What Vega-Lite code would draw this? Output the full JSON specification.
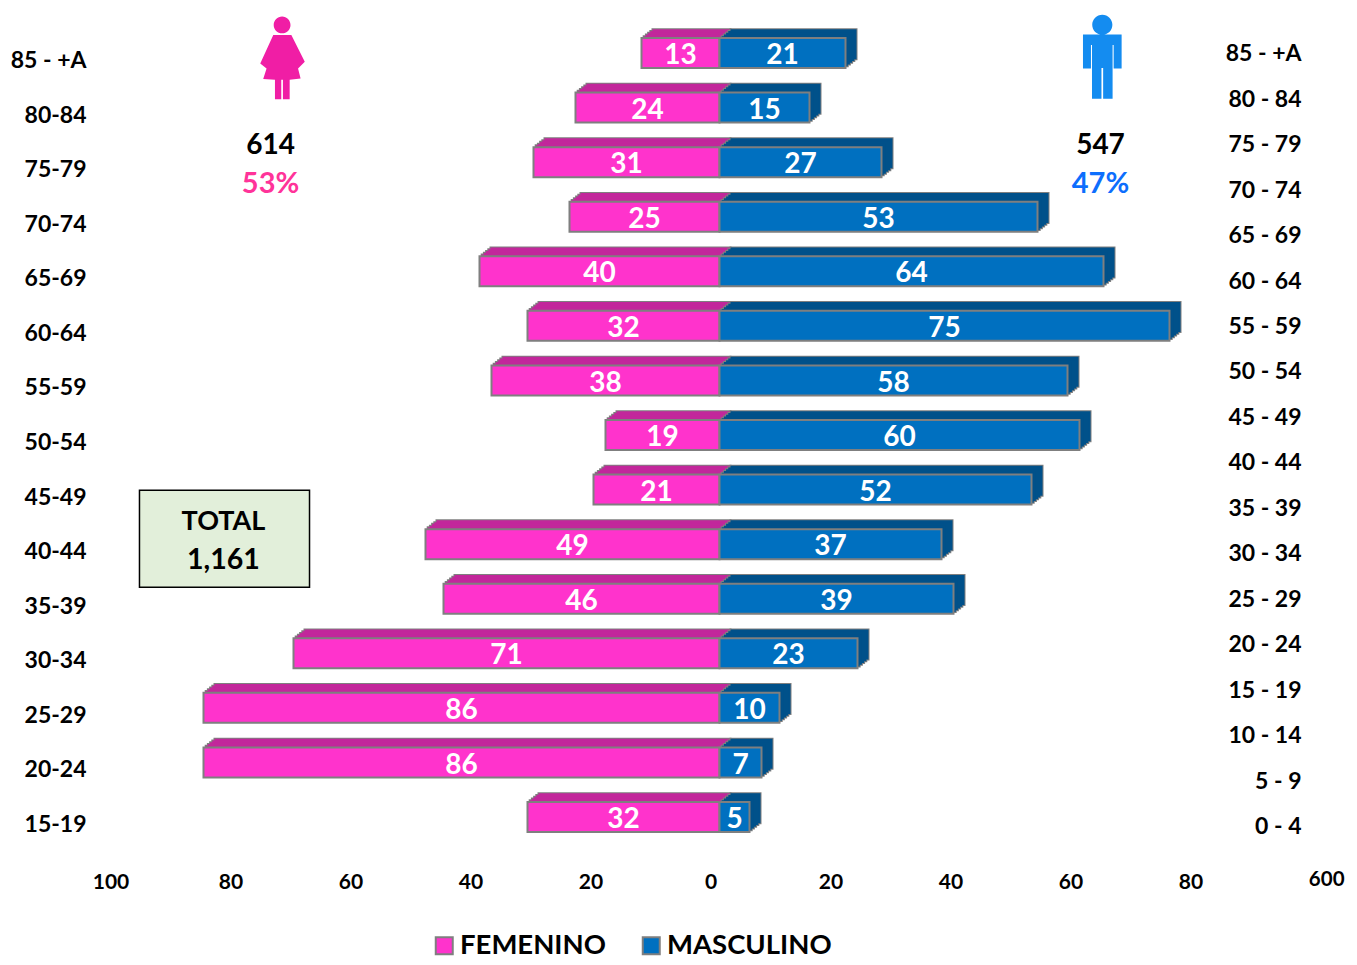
{"$schema":"https://vega.github.io/schema/vega-lite/v6.json","width":1200,"height":818.6,"autosize":{"type":"none"},"padding":{"left":119.5,"top":25.7,"right":37.5,"bottom":120.7},"background":"white","config":{"view":{"stroke":null},"font":"Lato","text":{"font":"Lato","fontWeight":"bold"}},
"data":{"values":[
{"edad":"85 - +A","sexo":"FEMENINO","valor":13},{"edad":"85 - +A","sexo":"MASCULINO","valor":21},
{"edad":"80-84","sexo":"FEMENINO","valor":24},{"edad":"80-84","sexo":"MASCULINO","valor":15},
{"edad":"75-79","sexo":"FEMENINO","valor":31},{"edad":"75-79","sexo":"MASCULINO","valor":27},
{"edad":"70-74","sexo":"FEMENINO","valor":25},{"edad":"70-74","sexo":"MASCULINO","valor":53},
{"edad":"65-69","sexo":"FEMENINO","valor":40},{"edad":"65-69","sexo":"MASCULINO","valor":64},
{"edad":"60-64","sexo":"FEMENINO","valor":32},{"edad":"60-64","sexo":"MASCULINO","valor":75},
{"edad":"55-59","sexo":"FEMENINO","valor":38},{"edad":"55-59","sexo":"MASCULINO","valor":58},
{"edad":"50-54","sexo":"FEMENINO","valor":19},{"edad":"50-54","sexo":"MASCULINO","valor":60},
{"edad":"45-49","sexo":"FEMENINO","valor":21},{"edad":"45-49","sexo":"MASCULINO","valor":52},
{"edad":"40-44","sexo":"FEMENINO","valor":49},{"edad":"40-44","sexo":"MASCULINO","valor":37},
{"edad":"35-39","sexo":"FEMENINO","valor":46},{"edad":"35-39","sexo":"MASCULINO","valor":39},
{"edad":"30-34","sexo":"FEMENINO","valor":71},{"edad":"30-34","sexo":"MASCULINO","valor":23},
{"edad":"25-29","sexo":"FEMENINO","valor":86},{"edad":"25-29","sexo":"MASCULINO","valor":10},
{"edad":"20-24","sexo":"FEMENINO","valor":86},{"edad":"20-24","sexo":"MASCULINO","valor":7},
{"edad":"15-19","sexo":"FEMENINO","valor":32},{"edad":"15-19","sexo":"MASCULINO","valor":5}
]},
"transform":[{"calculate":"datum.sexo=='FEMENINO'?-datum.valor:datum.valor","as":"eje"}],
"resolve":{"scale":{"y":"independent"}},
"encoding":{"x":{"field":"eje","type":"quantitative","stack":null,"scale":{"domain":[-100,100],"nice":false,"zero":false},"axis":{"title":null,"orient":"bottom","values":[-100,-80,-60,-40,-20,0,20,40,60,80],"labelExpr":"abs(datum.value)","domain":false,"ticks":false,"grid":false,"labelPadding":27,"labelOffset":-9,"labelFlush":false,"labelBound":false,"labelFont":"Lato","labelFontWeight":"bold","labelFontSize":21,"labelColor":"black","labelBaseline":"top","labelOverlap":false}}},
"layer":[
{"encoding":{
"y":{"field":"edad","type":"nominal","sort":null,"scale":{"domain":["85 - +A","80-84","75-79","70-74","65-69","60-64","55-59","50-54","45-49","40-44","35-39","30-34","25-29","20-24","15-19"],"paddingInner":0,"paddingOuter":0,"round":false},"axis":{"title":null,"orient":"left","domain":false,"ticks":false,"grid":false,"labelPadding":33.5,"labelOffset":8,"labelFont":"Lato","labelFontWeight":"bold","labelFontSize":23,"labelColor":"black"}},
"x2":{"datum":0}},
"layer":[
{"transform":[{"filter":"datum.sexo=='FEMENINO'"}],"mark":{"type":"bar","height":30,"xOffset":11,"x2Offset":11,"yOffset":-8.8,"color":"#7f7f7f","stroke":"#7f7f7f","strokeWidth":2}},
{"transform":[{"filter":"datum.sexo=='FEMENINO'"}],"mark":{"type":"bar","height":30,"xOffset":8.8,"x2Offset":8.8,"yOffset":-7,"color":"#7f7f7f","stroke":"#7f7f7f","strokeWidth":2}},
{"transform":[{"filter":"datum.sexo=='FEMENINO'"}],"mark":{"type":"bar","height":30,"xOffset":6.6,"x2Offset":6.6,"yOffset":-5.3,"color":"#7f7f7f","stroke":"#7f7f7f","strokeWidth":2}},
{"transform":[{"filter":"datum.sexo=='FEMENINO'"}],"mark":{"type":"bar","height":30,"xOffset":4.4,"x2Offset":4.4,"yOffset":-3.5,"color":"#7f7f7f","stroke":"#7f7f7f","strokeWidth":2}},
{"transform":[{"filter":"datum.sexo=='FEMENINO'"}],"mark":{"type":"bar","height":30,"xOffset":2.2,"x2Offset":2.2,"yOffset":-1.8,"color":"#7f7f7f","stroke":"#7f7f7f","strokeWidth":2}},
{"transform":[{"filter":"datum.sexo=='FEMENINO'"}],"mark":{"type":"bar","height":30,"xOffset":11,"x2Offset":11,"yOffset":-8.8,"color":"#c2279b"}},
{"transform":[{"filter":"datum.sexo=='FEMENINO'"}],"mark":{"type":"bar","height":30,"xOffset":8.8,"x2Offset":8.8,"yOffset":-7,"color":"#c2279b"}},
{"transform":[{"filter":"datum.sexo=='FEMENINO'"}],"mark":{"type":"bar","height":30,"xOffset":6.6,"x2Offset":6.6,"yOffset":-5.3,"color":"#c2279b"}},
{"transform":[{"filter":"datum.sexo=='FEMENINO'"}],"mark":{"type":"bar","height":30,"xOffset":4.4,"x2Offset":4.4,"yOffset":-3.5,"color":"#c2279b"}},
{"transform":[{"filter":"datum.sexo=='FEMENINO'"}],"mark":{"type":"bar","height":30,"xOffset":2.2,"x2Offset":2.2,"yOffset":-1.8,"color":"#c2279b"}},
{"transform":[{"filter":"datum.sexo=='MASCULINO'"}],"mark":{"type":"bar","height":30,"xOffset":11,"x2Offset":11,"yOffset":-8.8,"color":"#7f7f7f","stroke":"#7f7f7f","strokeWidth":2}},
{"transform":[{"filter":"datum.sexo=='MASCULINO'"}],"mark":{"type":"bar","height":30,"xOffset":8.8,"x2Offset":8.8,"yOffset":-7,"color":"#7f7f7f","stroke":"#7f7f7f","strokeWidth":2}},
{"transform":[{"filter":"datum.sexo=='MASCULINO'"}],"mark":{"type":"bar","height":30,"xOffset":6.6,"x2Offset":6.6,"yOffset":-5.3,"color":"#7f7f7f","stroke":"#7f7f7f","strokeWidth":2}},
{"transform":[{"filter":"datum.sexo=='MASCULINO'"}],"mark":{"type":"bar","height":30,"xOffset":4.4,"x2Offset":4.4,"yOffset":-3.5,"color":"#7f7f7f","stroke":"#7f7f7f","strokeWidth":2}},
{"transform":[{"filter":"datum.sexo=='MASCULINO'"}],"mark":{"type":"bar","height":30,"xOffset":2.2,"x2Offset":2.2,"yOffset":-1.8,"color":"#7f7f7f","stroke":"#7f7f7f","strokeWidth":2}},
{"transform":[{"filter":"datum.sexo=='MASCULINO'"}],"mark":{"type":"bar","height":30,"xOffset":11,"x2Offset":11,"yOffset":-8.8,"color":"#00518a"}},
{"transform":[{"filter":"datum.sexo=='MASCULINO'"}],"mark":{"type":"bar","height":30,"xOffset":8.8,"x2Offset":8.8,"yOffset":-7,"color":"#00518a"}},
{"transform":[{"filter":"datum.sexo=='MASCULINO'"}],"mark":{"type":"bar","height":30,"xOffset":6.6,"x2Offset":6.6,"yOffset":-5.3,"color":"#00518a"}},
{"transform":[{"filter":"datum.sexo=='MASCULINO'"}],"mark":{"type":"bar","height":30,"xOffset":4.4,"x2Offset":4.4,"yOffset":-3.5,"color":"#00518a"}},
{"transform":[{"filter":"datum.sexo=='MASCULINO'"}],"mark":{"type":"bar","height":30,"xOffset":2.2,"x2Offset":2.2,"yOffset":-1.8,"color":"#00518a"}},
{"mark":{"type":"bar","height":30,"stroke":"#7f7f7f","strokeWidth":2},"encoding":{"color":{"field":"sexo","type":"nominal","scale":{"domain":["FEMENINO","MASCULINO"],"range":["#ff33cc","#0070c0"]},"legend":{"title":null,"orient":"none","legendX":311,"legendY":904,"direction":"horizontal","columns":2,"symbolType":"square","symbolSize":289,"symbolStrokeColor":"#7f7f7f","symbolStrokeWidth":2,"symbolOpacity":1,"labelFont":"Lato","labelFontWeight":"bold","labelFontSize":27.5,"labelColor":"black","labelOffset":2,"labelLimit":400,"columnPadding":31,"clipHeight":32}}}},
{"transform":[{"calculate":"datum.eje/2","as":"eje"}],"mark":{"type":"text","color":"white","fontSize":28,"baseline":"middle","align":"center","yOffset":3.2},"encoding":{"x2":null,"text":{"field":"valor","type":"quantitative"}}},
{"data":{"values":[{"etiqueta":"TOTAL","edad":"40-44","eje":-96.67}]},"mark":{"type":"bar","height":97,"yOffset":-5.5,"color":"#e2efda","stroke":"black","strokeWidth":1.5},"encoding":{"x2":{"datum":-68.33}}},
{"data":{"values":[{"texto":"TOTAL","edad":"45-49","eje":-82.67}]},"mark":{"type":"text","color":"black","fontSize":27,"baseline":"middle","align":"center","yOffset":32},"encoding":{"x2":null,"text":{"field":"texto"}}},
{"data":{"values":[{"texto":"1,161","edad":"40-44","eje":-82.67}]},"mark":{"type":"text","color":"black","fontSize":28.5,"baseline":"middle","align":"center","yOffset":15.5},"encoding":{"x2":null,"text":{"field":"texto"}}},
{"data":{"values":[{"texto":"614","edad":"80-84","eje":-74.83},{"texto":"547","edad":"80-84","eje":63.5}]},"mark":{"type":"text","color":"black","fontSize":28,"baseline":"middle","align":"center","yOffset":38.5},"encoding":{"x2":null,"text":{"field":"texto"}}},
{"data":{"values":[{"texto":"53%","edad":"75-79","eje":-74.83}]},"mark":{"type":"text","color":"#ff3399","fontSize":29,"baseline":"middle","align":"center","yOffset":22},"encoding":{"x2":null,"text":{"field":"texto"}}},
{"data":{"values":[{"texto":"47%","edad":"75-79","eje":63.5}]},"mark":{"type":"text","color":"#0d6efd","fontSize":29,"baseline":"middle","align":"center","yOffset":22},"encoding":{"x2":null,"text":{"field":"texto"}}},
{"data":{"values":[{"texto":"600","edad":"15-19","eje":101.2}]},"mark":{"type":"text","color":"black","fontSize":20.5,"baseline":"middle","align":"center","yOffset":62.5},"encoding":{"x2":null,"text":{"field":"texto"}}},
{"data":{"values":[{"icono":"mujer","edad":"85 - +A","eje":-72.9}]},"mark":{"type":"point","filled":true,"opacity":1,"size":7056,"yOffset":5,"color":"#f01ea5","shape":"M-0.2,-0.786 A0.2,0.2 0 1 1 0.2,-0.786 A0.2,0.2 0 1 1 -0.2,-0.786 Z M-0.21,-0.55 L0.22,-0.55 L0.54,0.09 L0.38,0.25 L0.44,0.49 L0.18,0.52 L0.18,0.98 L0.02,0.98 L0.02,0.52 L-0.02,0.52 L-0.02,0.98 L-0.17,0.98 L-0.17,0.52 L-0.45,0.5 L-0.37,0.25 L-0.52,0.13 Z"},"encoding":{"x2":null}},
{"data":{"values":[{"icono":"hombre","edad":"85 - +A","eje":63.8}]},"mark":{"type":"point","filled":true,"opacity":1,"size":7056,"yOffset":4.5,"color":"#148cf0","shape":"M-0.24,-0.78 A0.24,0.24 0 1 1 0.24,-0.78 A0.24,0.24 0 1 1 -0.24,-0.78 Z M-0.46,-0.55 L0.46,-0.55 L0.46,0.26 L0.27,0.26 L0.27,-0.3 L0.245,-0.3 L0.245,0.98 L0.02,0.98 L0.02,0.25 L-0.02,0.25 L-0.02,0.98 L-0.245,0.98 L-0.245,-0.3 L-0.27,-0.3 L-0.27,0.26 L-0.46,0.26 Z"},"encoding":{"x2":null}}
]},
{"data":{"values":[{"grupo":"85 - +A","eje":97},{"grupo":"80 - 84","eje":97},{"grupo":"75 - 79","eje":97},{"grupo":"70 - 74","eje":97},{"grupo":"65 - 69","eje":97},{"grupo":"60 - 64","eje":97},{"grupo":"55 - 59","eje":97},{"grupo":"50 - 54","eje":97},{"grupo":"45 - 49","eje":97},{"grupo":"40 - 44","eje":97},{"grupo":"35 - 39","eje":97},{"grupo":"30 - 34","eje":97},{"grupo":"25 - 29","eje":97},{"grupo":"20 - 24","eje":97},{"grupo":"15 - 19","eje":97},{"grupo":"10 - 14","eje":97},{"grupo":"5 - 9\u00a0\u00a0","eje":97},{"grupo":"0 - 4","eje":97}]},
"mark":{"type":"text","color":"black","fontSize":23,"align":"right","baseline":"middle","yOffset":5.7},
"encoding":{"y":{"field":"grupo","type":"nominal","sort":null,"scale":{"paddingInner":0,"paddingOuter":0,"round":false},"axis":null},"text":{"field":"grupo"}}}
]}
